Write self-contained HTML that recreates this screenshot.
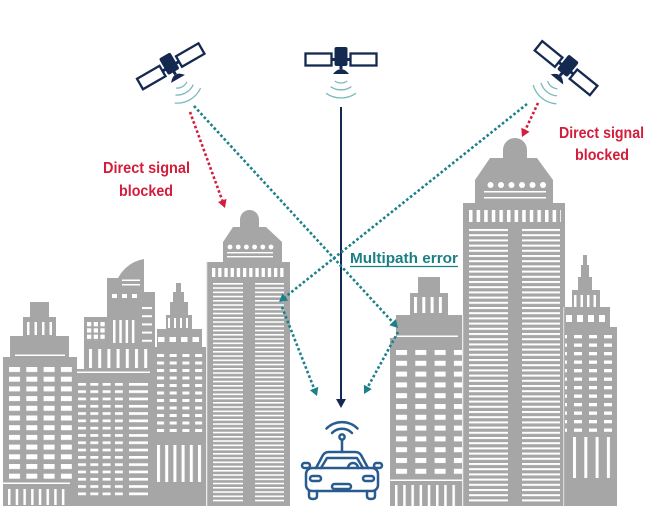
<!DOCTYPE html>
<html><head><meta charset="utf-8"><style>html,body{margin:0;padding:0;background:#fff;}svg{display:block}</style></head>
<body>
<svg width="654" height="512" viewBox="0 0 654 512" xmlns="http://www.w3.org/2000/svg">
<defs>
<pattern id="pAg" patternUnits="userSpaceOnUse" x="9" y="367" width="17.3" height="9.7"><rect width="11" height="5" fill="#fff"/></pattern>
<pattern id="pAt" patternUnits="userSpaceOnUse" x="27" y="0" width="7.5" height="1"><rect width="2.5" height="1" fill="#fff"/></pattern>
<pattern id="pAb" patternUnits="userSpaceOnUse" x="8" y="0" width="7.7" height="1"><rect width="2.5" height="1" fill="#fff"/></pattern>
<pattern id="pBbar" patternUnits="userSpaceOnUse" x="0" y="307" width="10" height="8.2"><rect width="10" height="2" fill="#fff"/></pattern>
<pattern id="pBg" patternUnits="userSpaceOnUse" x="87" y="322" width="6.7" height="6.3"><rect width="4.3" height="4.3" fill="#fff"/></pattern>
<pattern id="pBv" patternUnits="userSpaceOnUse" x="113" y="0" width="6.3" height="1"><rect width="2.5" height="1" fill="#fff"/></pattern>
<pattern id="pBv2" patternUnits="userSpaceOnUse" x="89" y="0" width="9.2" height="1"><rect width="3" height="1" fill="#fff"/></pattern>
<pattern id="pBd" patternUnits="userSpaceOnUse" x="78" y="383" width="12.3" height="7.3"><rect width="8" height="2.7" fill="#fff"/></pattern>
<pattern id="pBw" patternUnits="userSpaceOnUse" x="0" y="383" width="10" height="7.3"><rect width="10" height="2.7" fill="#fff"/></pattern>
<pattern id="pCs" patternUnits="userSpaceOnUse" x="168" y="0" width="6" height="1"><rect width="2" height="1" fill="#fff"/></pattern>
<pattern id="pCq" patternUnits="userSpaceOnUse" x="158" y="0" width="11.5" height="1"><rect width="6.5" height="1" fill="#fff"/></pattern>
<pattern id="pCg" patternUnits="userSpaceOnUse" x="157" y="354" width="12.7" height="7.5"><rect width="7" height="3" fill="#fff"/></pattern>
<pattern id="pCv" patternUnits="userSpaceOnUse" x="157" y="0" width="8.2" height="1"><rect width="3" height="1" fill="#fff"/></pattern>
<pattern id="pDv" patternUnits="userSpaceOnUse" x="212" y="0" width="6.2" height="1"><rect width="3.3" height="1" fill="#fff"/></pattern>
<pattern id="pDs" patternUnits="userSpaceOnUse" x="0" y="283" width="10" height="4.25"><rect width="10" height="1.6" fill="#fff"/></pattern>
<pattern id="pEt" patternUnits="userSpaceOnUse" x="414" y="0" width="8.3" height="1"><rect width="3" height="1" fill="#fff"/></pattern>
<pattern id="pEg" patternUnits="userSpaceOnUse" x="396" y="350" width="19.3" height="10.8"><rect width="11" height="5" fill="#fff"/></pattern>
<pattern id="pEb" patternUnits="userSpaceOnUse" x="395" y="0" width="8.2" height="1"><rect width="2.5" height="1" fill="#fff"/></pattern>
<pattern id="pFv" patternUnits="userSpaceOnUse" x="469" y="0" width="7.6" height="1"><rect width="3.5" height="1" fill="#fff"/></pattern>
<pattern id="pFs" patternUnits="userSpaceOnUse" x="0" y="229" width="10" height="5.2"><rect width="10" height="2" fill="#fff"/></pattern>
<pattern id="pGs" patternUnits="userSpaceOnUse" x="574" y="0" width="6.5" height="1"><rect width="2.5" height="1" fill="#fff"/></pattern>
<pattern id="pGq" patternUnits="userSpaceOnUse" x="566" y="0" width="11" height="1"><rect width="6" height="1" fill="#fff"/></pattern>
<pattern id="pGg" patternUnits="userSpaceOnUse" x="559" y="335" width="15" height="8.5"><rect width="8" height="3.3" fill="#fff"/></pattern>
<pattern id="pGv" patternUnits="userSpaceOnUse" x="573" y="0" width="11.3" height="1"><rect width="3" height="1" fill="#fff"/></pattern>
<g id="sat">
  <rect x="-35.5" y="-4.5" width="26" height="12" fill="#fff" stroke="#14294f" stroke-width="2.3"/>
  <rect x="9.5" y="-4.5" width="26" height="12" fill="#fff" stroke="#14294f" stroke-width="2.3"/>
  <rect x="-10" y="0" width="4" height="3" fill="#14294f"/>
  <rect x="6" y="0" width="4" height="3" fill="#14294f"/>
  <rect x="-6.5" y="-11" width="13" height="19" rx="2" fill="#14294f"/>
  <rect x="-1.5" y="7" width="3" height="4" fill="#14294f"/>
  <path d="M-8,16 Q0,6 8,16 Z" fill="#14294f"/>
  <g fill="none" stroke="#7ab9be" stroke-width="1.3">
    <path d="M-6.3,23 A11,11 0 0 0 6.3,23"/>
    <path d="M-10.3,28.7 A18,18 0 0 0 10.3,28.7"/>
    <path d="M-14.9,35.3 A26,26 0 0 0 14.9,35.3"/>
  </g>
</g>
</defs>
<rect width="654" height="512" fill="#fff"/>

<g fill="#a6a6a6">
<!-- A -->
<path d="M3,506 V357 H10 V336 H23 V317 H30 V302 H49 V317 H56 V336 H69 V357 H77 V506 Z"/>
<!-- B -->
<path d="M77,506 V369 H84 V317 H107 V278 H118 Q127,262 144,259 V292 H155 V506 Z"/>
<!-- C -->
<path d="M155,506 V347 H157 V329 H166 V315 H170 V302 H173 V292 H176 V283 H181 V292 H184 V302 H188 V315 H192 V329 H202 V347 H206 V506 Z"/>
<!-- D -->
<path d="M207,506 V262 H223 V242 L233,227 H240 V219.5 A9.5,9.5 0 0 1 259,219.5 V227 H266 L282,242 V262 H290 V506 Z"/>
<!-- E -->
<path d="M390,506 V338 H396 V315 H410 V293 H418 V277 H440 V293 H448 V315 H462 V506 Z"/>
<!-- F -->
<path d="M463,506 V203 H475 V180 L490,158 H503 V150 A12,12 0 0 1 527,150 V158 H537 L553,180 V203 H565 V506 Z"/>
<!-- G -->
<path d="M563,506 V307 H572 V290 H578 V277 H581 V265 H583 V255 H587 V265 H589 V277 H592 V290 H600 V307 H610 V327 H617 V506 Z"/>
</g>

<!-- A windows -->
<rect x="27" y="322" width="25" height="13" fill="url(#pAt)"/>
<rect x="15" y="354.5" width="50" height="1.5" fill="#fff"/>
<rect x="9" y="367" width="63" height="112" fill="url(#pAg)"/>
<rect x="3" y="482.5" width="67" height="1.5" fill="#fff"/>
<rect x="8" y="489" width="57" height="16" fill="url(#pAb)"/>
<!-- B windows -->
<rect x="122" y="279.5" width="18" height="1.5" fill="#fff"/>
<rect x="122" y="284" width="18" height="1.5" fill="#fff"/>
<rect x="112" y="294" width="5" height="4" fill="#fff"/>
<rect x="122" y="294" width="5" height="4" fill="#fff"/>
<rect x="132" y="294" width="5" height="4" fill="#fff"/>
<rect x="142" y="307" width="10" height="36" fill="url(#pBbar)"/>
<rect x="87" y="322" width="20" height="19" fill="url(#pBg)"/>
<rect x="113" y="320" width="22" height="23" fill="url(#pBv)"/>
<rect x="89" y="349" width="59" height="19" fill="url(#pBv2)"/>
<rect x="77" y="371.5" width="73" height="1.5" fill="#fff"/>
<rect x="78" y="383" width="45" height="113" fill="url(#pBd)"/>
<rect x="129" y="383" width="19" height="113" fill="url(#pBw)"/>
<!-- C windows -->
<rect x="168" y="318" width="22" height="10" fill="url(#pCs)"/>
<rect x="158" y="337" width="45" height="5" fill="url(#pCq)"/>
<rect x="157" y="354" width="46" height="81" fill="url(#pCg)"/>
<rect x="157" y="445" width="45" height="37" fill="url(#pCv)"/>
<!-- D windows -->
<g fill="#fff">
<circle cx="230" cy="247" r="2.4"/><circle cx="238.2" cy="247" r="2.4"/><circle cx="246.4" cy="247" r="2.4"/>
<circle cx="254.6" cy="247" r="2.4"/><circle cx="262.8" cy="247" r="2.4"/><circle cx="271" cy="247" r="2.4"/>
<rect x="227" y="252" width="46" height="1.4"/>
<rect x="227" y="256" width="46" height="1.4"/>
</g>
<rect x="212" y="268" width="73" height="9" fill="url(#pDv)"/>
<rect x="213" y="283" width="30" height="220" fill="url(#pDs)"/>
<rect x="255" y="283" width="29" height="220" fill="url(#pDs)"/>
<!-- E windows -->
<rect x="414" y="297" width="28" height="16" fill="url(#pEt)"/>
<rect x="397" y="335.5" width="61" height="1.5" fill="#fff"/>
<rect x="396" y="350" width="66" height="125" fill="url(#pEg)"/>
<rect x="390" y="479.5" width="72" height="1.5" fill="#fff"/>
<rect x="395" y="485" width="62" height="21" fill="url(#pEb)"/>
<!-- F windows -->
<g fill="#fff">
<circle cx="490.5" cy="185" r="3"/><circle cx="501" cy="185" r="3"/><circle cx="511.5" cy="185" r="3"/>
<circle cx="522" cy="185" r="3"/><circle cx="532.5" cy="185" r="3"/><circle cx="543" cy="185" r="3"/>
<rect x="484" y="191" width="62" height="1.5"/>
<rect x="484" y="197" width="62" height="1.5"/>
</g>
<rect x="469" y="210" width="92" height="12" fill="url(#pFv)"/>
<rect x="469" y="229" width="39" height="273" fill="url(#pFs)"/>
<rect x="522" y="229" width="38" height="273" fill="url(#pFs)"/>
<!-- G windows -->
<rect x="574" y="295" width="23" height="12" fill="url(#pGs)"/>
<rect x="566" y="315" width="45" height="7" fill="url(#pGq)"/>
<rect x="565" y="335" width="48" height="98" fill="url(#pGg)"/>
<rect x="573" y="437" width="40" height="41" fill="url(#pGv)"/>
<!-- separators -->
<g fill="#e4e4e4">
<rect x="206.3" y="262" width="1" height="244"/>
<rect x="462.3" y="315" width="1" height="191"/>
<rect x="563.2" y="307" width="1" height="199"/>
</g>

<!-- satellites -->
<use href="#sat" transform="translate(341,58)"/>
<use href="#sat" transform="translate(170,65) rotate(-30)"/>
<use href="#sat" transform="translate(567,67) rotate(39)"/>

<!-- navy direct signal -->
<line x1="341" y1="107" x2="341" y2="400" stroke="#14294f" stroke-width="2"/>
<path d="M341,408 L336,399 L346,399 Z" fill="#14294f"/>

<!-- teal dotted -->
<g stroke="#1b8089" stroke-width="2.6" stroke-dasharray="2.6 2.3" fill="none">
<line x1="194" y1="106" x2="392.6" y2="322.1"/>
<line x1="527" y1="104" x2="285.2" y2="297"/>
<line x1="282" y1="307" x2="314.1" y2="388.6"/>
<line x1="398" y1="332" x2="367.8" y2="387"/>
</g>
<g fill="#1b8089">
<path d="M398,328 L389.3,325.2 L395.9,319 Z"/>
<path d="M279,302 L282.4,293.5 L288.1,300.5 Z"/>
<path d="M317,396 L309.9,390.2 L318.3,386.9 Z"/>
<path d="M364,394 L363.9,384.8 L371.8,389.1 Z"/>
</g>

<!-- red dotted -->
<g stroke="#d21e3c" stroke-width="2.6" stroke-dasharray="2.6 2.3" fill="none">
<line x1="190" y1="112" x2="222.3" y2="200.5"/>
<line x1="538" y1="103" x2="525.4" y2="129.8"/>
</g>
<g fill="#d21e3c">
<path d="M225,208 L218,202 L226.5,198.9 Z"/>
<path d="M522,137 L521.3,127.8 L529.5,131.7 Z"/>
</g>

<!-- car -->
<g fill="none" stroke="#2a5b8e" stroke-width="2.5" stroke-linecap="round" stroke-linejoin="round">
<path d="M326.5,428.5 A22,22 0 0 1 357.5,428.5"/>
<path d="M332,433 A14,14 0 0 1 352,433"/>
<circle cx="342" cy="437" r="2.6"/>
<line x1="342" y1="440" x2="342" y2="452"/>
<path d="M316,468 L323,455 Q325,452 329,452 H355 Q359,452 361,455 L368,468"/>
<path d="M321,468 L327,458 H357 L363,468"/>
<path d="M348,468 A5,5 0 0 1 358,468"/>
<rect x="306" y="468" width="72" height="23" rx="6"/>
<path d="M309,491 V496 Q309,499 313,499 Q317,499 317,496 V491"/>
<path d="M367,491 V496 Q367,499 371,499 Q375,499 375,496 V491"/>
<rect x="302" y="463" width="8" height="5" rx="2.5"/>
<rect x="374" y="463" width="8" height="5" rx="2.5"/>
<rect x="310" y="476" width="11" height="5" rx="2.5"/>
<rect x="363" y="476" width="11" height="5" rx="2.5"/>
<rect x="332" y="484" width="19" height="5" rx="2.5"/>
</g>

<!-- labels -->
<g font-family="'Liberation Sans', sans-serif" font-weight="bold">
<text x="103" y="173" font-size="16" fill="#d21e3c" textLength="87" lengthAdjust="spacingAndGlyphs">Direct signal</text>
<text x="119" y="196" font-size="16" fill="#d21e3c" textLength="54" lengthAdjust="spacingAndGlyphs">blocked</text>
<text x="559" y="138" font-size="16" fill="#d21e3c" textLength="85" lengthAdjust="spacingAndGlyphs">Direct signal</text>
<text x="575" y="160" font-size="16" fill="#d21e3c" textLength="54" lengthAdjust="spacingAndGlyphs">blocked</text>
<text x="350" y="263" font-size="15" fill="#1b7f86" textLength="108" lengthAdjust="spacingAndGlyphs">Multipath error</text>
</g>
<line x1="350" y1="266.5" x2="458" y2="266.5" stroke="#1b7f86" stroke-width="1.3"/>
</svg>
</body></html>
